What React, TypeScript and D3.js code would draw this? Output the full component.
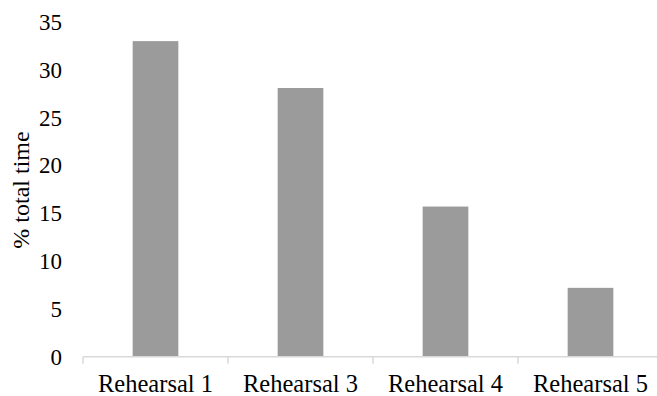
import React from "react";
import * as d3 from "d3";

const categories = ["Rehearsal 1", "Rehearsal 3", "Rehearsal 4", "Rehearsal 5"];
const values = [33, 28.1, 15.7, 7.2];
const yTicks = [0, 5, 10, 15, 20, 25, 30, 35];

const W = 657;
const H = 396;
const left = 83;
const right = 663;
const top = 22;
const bottom = 356.7;
const font = "'Liberation Serif', 'DejaVu Serif'";

export default function App() {
  const x = d3.scaleBand<string>().domain(categories).range([left, right]).padding(0);
  const y = d3.scaleLinear().domain([0, 35]).range([bottom, top]);
  const barW = x.bandwidth() * 0.315;
  const edges = categories.map((c) => x(c) as number).concat([right]);
  const textStyle = { fontFamily: font };

  return (
    <svg
      width={W}
      height={H}
      style={{ position: "absolute", left: 0, top: 0, background: "#fff" }}
    >
      {values.map((v, i) => {
        const cx = (x(categories[i]) as number) + x.bandwidth() / 2;
        return (
          <rect
            key={categories[i]}
            x={cx - barW / 2}
            y={y(v)}
            width={barW}
            height={bottom - y(v)}
            fill="#9b9b9b"
          />
        );
      })}
      <line x1={left} x2={right} y1={bottom} y2={bottom} stroke="#d9d9d9" strokeWidth={1.5} />
      {edges.map((ex, i) => (
        <line key={i} x1={ex} x2={ex} y1={bottom} y2={bottom + 7} stroke="#d9d9d9" strokeWidth={1.5} />
      ))}
      {yTicks.map((t) => (
        <text key={t} x={62} y={y(t)} dy="0.35em" textAnchor="end" fontSize={23} fill="#000" style={textStyle}>
          {t}
        </text>
      ))}
      {categories.map((c) => (
        <text
          key={c}
          x={(x(c) as number) + x.bandwidth() / 2}
          y={392}
          textAnchor="middle"
          fontSize={24.5}
          fill="#000"
          style={textStyle}
        >
          {c}
        </text>
      ))}
      <text
        transform={`translate(29, 190) rotate(-90)`}
        textAnchor="middle"
        fontSize={24}
        fill="#000"
        style={textStyle}
      >
        % total time
      </text>
    </svg>
  );
}
